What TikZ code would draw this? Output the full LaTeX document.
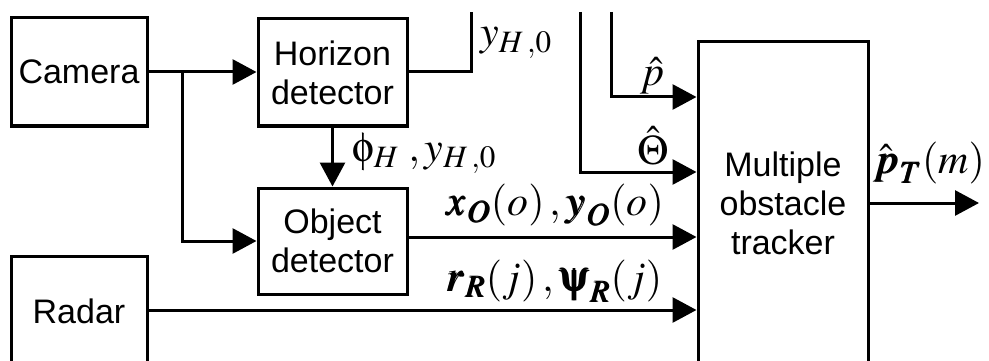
\documentclass[tikz,border=0pt]{standalone}
\usepackage{amsmath}
\usepackage{mathptmx}
\usepackage[Symbol]{upgreek}
\usepackage{bm}
\usepackage[no-math]{fontspec}
\setmainfont{Liberation Sans}
\usetikzlibrary{arrows.meta}

\begin{document}
\begin{tikzpicture}[x=1pt,y=-1pt,
  blk/.style={draw, line width=3pt, inner sep=0pt, align=center,
    font=\fontsize{34}{39}\selectfont},
  wire/.style={line width=3pt},
  feed/.style={wire, -{Triangle[length=24pt,width=25pt]}},
  sig/.style={inner sep=0pt, font=\fontsize{42}{48}\selectfont}]
\useasboundingbox (0,0) rectangle (989,361);
\clip (0,0) rectangle (989,361);

% processing blocks
\node[blk, minimum width=136pt, minimum height=108pt] (camera) at (79,72) {Camera};
\node[blk, minimum width=149pt, minimum height=107pt] (horizon) at (332.5,72.5) {Horizon\\detector};
\node[blk, minimum width=149pt, minimum height=106pt] (object) at (332.5,241) {Object\\detector};
\node[blk, minimum width=136pt, minimum height=110pt] (radar) at (79,311) {Radar};
\node[blk, minimum width=170pt, minimum height=322pt] (tracker) at (783,203) {Multiple\\obstacle\\tracker};

% helper points
\coordinate (split) at (182,72);
\coordinate (hout) at (471,12);
\coordinate (thetatop) at (580,12);
\coordinate (ptop) at (611,12);
\coordinate (prow) at (0,97);
\coordinate (thetarow) at (0,172);
\coordinate (orow) at (0,237);
\coordinate (rrow) at (0,310);
\coordinate (out) at (979,203);

% connectors
\draw[feed] (camera.east) -- (camera.east -| horizon.west);
\draw[feed] (split) |- (object.west);
\draw[feed] (horizon.south) -- (object.north);
\draw[wire] (horizon.east |- camera.east) -| (hout);
\draw[feed] (ptop) |- (tracker.west |- prow);
\draw[feed] (thetatop) |- (tracker.west |- thetarow);
\draw[feed] (object.east |- orow) -- (tracker.west |- orow);
\draw[feed] (radar.east |- rrow) -- (tracker.west |- rrow);
\draw[feed] (tracker.east |- out) -- (out);

% signal labels
\node[sig] (lyh) at (516,43) {$y_{H\,,0}$};
\node[sig] (lphi) at (424,153) {$\upphi_{H}\;, y_{H\,,0}$};
\node[sig] (lp) at (652,76) {$\hat{p}$};
\node[sig] (ltheta) at (653,146) {$\hat{\Theta}$};
\node[sig] (lxo) at (555,205) {$\bm{x}_{\bm{O}}(o)\,, \bm{y}_{\bm{O}}(o)$};
\node[sig] (lr) at (554,281) {$\bm{r}_{\bm{R}}(j)\,, \bm{\uppsi}_{\bm{R}}(j)$};
\node[sig] (lpt) at (929,163) {$\hat{\bm{p}}_{\bm{T}}(m)$};
\end{tikzpicture}
\end{document}
